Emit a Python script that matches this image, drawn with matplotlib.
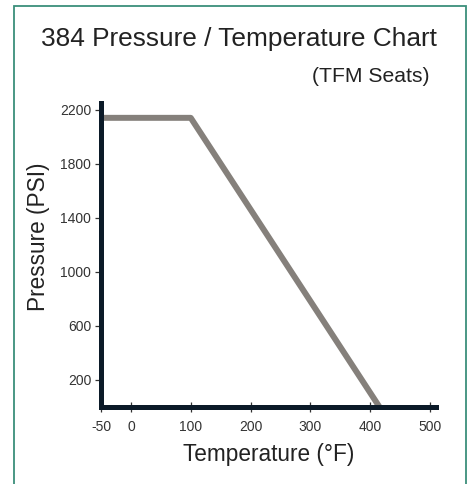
import matplotlib
matplotlib.use("Agg")
import matplotlib.pyplot as plt
from matplotlib.patches import Rectangle

temperature = [-50, 100, 415]
pressure = [2140, 2140, 0]
x_ticks = [-50, 0, 100, 200, 300, 400, 500]
y_ticks = [200, 600, 1000, 1400, 1800, 2200]

plt.rcParams['font.family'] = ['Liberation Sans', 'DejaVu Sans']

W, H = 471, 484
fig = plt.figure(figsize=(W / 100, H / 100), dpi=100)

# frame
fig.patches.append(Rectangle((14 / W, -0.05), (466 - 14) / W, 1.05 - 6 / H,
                             transform=fig.transFigure, fill=False,
                             edgecolor='#3b8f7b', linewidth=1.3))

ax = fig.add_axes([101 / W, (H - 406.5) / H, (436 - 101) / W, (406.5 - 103) / H])
ax.plot(temperature, pressure, color='#85807b', linewidth=4.3, solid_capstyle='butt', zorder=1)

ax.set_xlim(-50, 510)
ax.set_ylim(0, 2250)
ax.set_xticks(x_ticks)
ax.set_yticks(y_ticks)
ax.set_xticklabels([str(v) for v in x_ticks])
ax.set_yticklabels([str(v) for v in y_ticks])

for s in ['top', 'right']:
    ax.spines[s].set_visible(False)
for s in ['left', 'bottom']:
    ax.spines[s].set_linewidth(3.6)
    ax.spines[s].set_color('#0b1a28')
    ax.spines[s].set_zorder(3)
    ax.spines[s].set_capstyle('projecting')

ax.tick_params(axis='x', direction='inout', length=7, width=0.9, color='#333333',
               labelsize=10, labelcolor='#333333', pad=6)
ax.tick_params(axis='y', direction='out', length=4, width=0.9, color='#333333',
               labelsize=10, labelcolor='#333333', pad=3)

ax.set_xlabel('Temperature (°F)', fontsize=16.3, color='#222222', labelpad=7)
ax.set_ylabel('Pressure (PSI)', fontsize=16.3, color='#222222')
ax.yaxis.set_label_coords(-0.152, 0.558)

fig.text(239 / W, 1 - 39 / H, '384 Pressure / Temperature Chart', ha='center', va='center',
         fontsize=18.9, color='#222222')
fig.text(371 / W, 1 - 77 / H, '(TFM Seats)', ha='center', va='center',
         fontsize=15.2, color='#222222')

fig.savefig('out.png', dpi=100)
